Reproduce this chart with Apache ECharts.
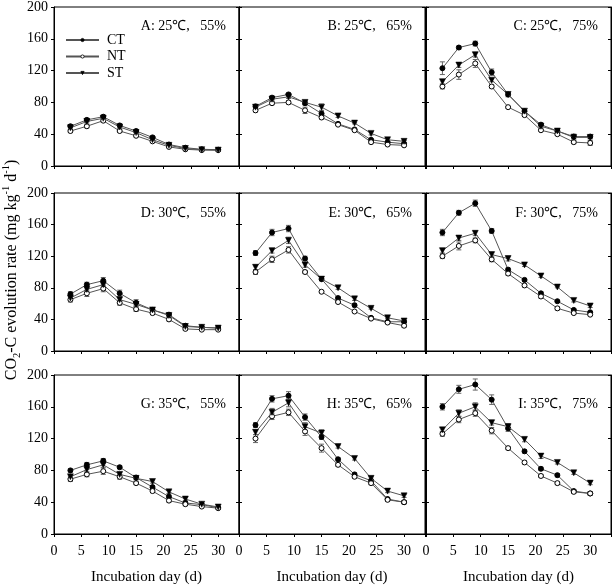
<!DOCTYPE html>
<html><head><meta charset="utf-8">
<script src="https://cdn.jsdelivr.net/npm/echarts@6/dist/echarts.min.js"></script>
<style>html,body{margin:0;padding:0;background:#fff}#c{width:614px;height:586px}</style>
</head><body><div id="c"></div>
<script>
// ---- data ----
const days = [3, 6, 9, 12, 15, 18, 21, 24, 27, 30];
const seriesNames = ['CT', 'NT', 'ST'];
const panelTitles = ['A: 25\u2103,   55%', 'B: 25\u2103,   65%', 'C: 25\u2103,   75%',
                     'D: 30\u2103,   55%', 'E: 30\u2103,   65%', 'F: 30\u2103,   75%',
                     'G: 35\u2103,   55%', 'H: 35\u2103,   65%', 'I: 35\u2103,   75%'];
const xTickLabels = [0, 5, 10, 15, 20, 25, 30];
const yTickLabels = [0, 40, 80, 120, 160, 200];

const ctA = [50, 58, 62, 51, 44, 36, 27, 23, 21, 20.5];
const ntA = [44, 50, 57, 44, 38, 31, 24, 21, 20, 20];
const stA = [48, 56, 60, 49, 42, 33, 26, 22, 20.5, 20];
const ctAErr = [2, 2, 2, 2, 2, 2, 1, 1, 1, 1];
const ntAErr = [2, 2, 2, 1.5, 1.5, 1, 1, 1, 1, 1];
const stAErr = [2, 2, 2, 2, 2, 1.5, 1, 1, 1, 1];

const ctB = [75, 86, 90, 79, 66, 53, 46, 33, 30, 28];
const ntB = [70, 79, 80, 70, 61, 52, 45, 30, 27, 26];
const stB = [74, 84, 87, 80, 74, 63, 54, 41, 33, 31];
const ctBErr = [2, 2, 2, 2, 3, 1, 1, 1, 1, 1];
const ntBErr = [2, 2, 2, 4, 2, 1, 1, 2, 1, 1];
const stBErr = [2, 2, 2, 3, 4, 2, 1, 2, 2, 1];

const ctC = [123, 149, 154, 118, 90, 69, 52, 44, 37, 37];
const ntC = [100, 115, 129, 100, 74, 64, 45, 40, 30, 29];
const stC = [106, 127, 140, 108, 90, 69, 50, 44, 36, 36];
const ctCErr = [8, 2, 3, 4, 3, 2, 2, 2, 3, 2];
const ntCErr = [3, 6, 5, 2, 1, 1, 1, 1, 2, 3];
const stCErr = [3, 3, 3, 2, 2, 2, 2, 2, 2, 2];

const ctD = [72, 84, 89, 73, 61, 52, 46, 32, 30, 29];
const ntD = [65, 73, 79, 61, 53, 48, 40, 28, 27, 27];
const stD = [67, 78, 84, 65, 59, 52, 45, 31, 30, 29];
const ctDErr = [3, 3, 4, 4, 4, 2, 2, 2, 1, 1];
const ntDErr = [3, 4, 4, 3, 3, 2, 2, 2, 1, 1];
const stDErr = [3, 3, 3, 3, 2, 2, 2, 2, 1, 2];

const ctE = [124, 150, 155, 117, 91, 67, 58, 42, 37, 37];
const ntE = [100, 116, 128, 100, 75, 62, 50, 41, 36, 32];
const stE = [106, 127, 140, 109, 91, 80, 66, 54, 42, 38];
const ctEErr = [3, 4, 4, 3, 2, 2, 2, 1, 1, 1];
const ntEErr = [3, 4, 4, 2, 1, 1, 1, 1, 1, 2];
const stEErr = [3, 3, 4, 3, 2, 2, 2, 1, 1, 1];

const ctF = [150, 175, 187, 152, 103, 90, 73, 63, 52, 49];
const ntF = [120, 133, 140, 116, 98, 83, 69, 54, 48, 46];
const stF = [127, 143, 149, 122, 117, 109, 95, 81, 64, 57];
const ctFErr = [4, 3, 4, 3, 2, 2, 2, 1, 1, 1];
const ntFErr = [3, 5, 3, 3, 2, 2, 2, 2, 1, 1];
const stFErr = [3, 3, 3, 3, 3, 2, 2, 1, 2, 2];

const ctG = [80, 87, 92, 84, 71, 59, 47, 39, 37, 33];
const ntG = [69, 75, 79, 72, 64, 54, 42, 37.5, 34.5, 32.5];
const stG = [72, 81, 87, 75, 70, 66, 53, 44, 37.5, 34];
const ctGErr = [2, 3, 3, 2, 2, 2, 2, 2, 1, 1];
const ntGErr = [3, 3, 4, 3, 2, 2, 2, 2, 1, 1];
const stGErr = [2, 3, 3, 3, 2, 2, 2, 2, 1, 1];

const ctH = [137, 170, 174, 147, 122, 94, 75, 67, 44, 40];
const ntH = [120, 148, 153, 129, 108, 87, 72, 64, 43, 40];
const stH = [128, 153, 165, 135, 127, 110, 95, 70, 54, 48];
const ctHErr = [3, 4, 5, 4, 3, 2, 2, 2, 2, 2];
const ntHErr = [5, 4, 4, 5, 5, 2, 2, 2, 2, 2];
const stHErr = [3, 5, 5, 5, 4, 2, 2, 2, 2, 2];

const ctI = [160, 182, 188, 169, 133, 104, 82, 74, 54, 51];
const ntI = [126, 144, 152, 130, 108, 90, 73, 64, 53, 51];
const stI = [131, 152, 160, 140, 135, 119, 98, 90, 77, 64];
const ctIErr = [4, 5, 7, 6, 4, 2, 2, 2, 2, 2];
const ntIErr = [3, 4, 4, 4, 2, 2, 2, 2, 2, 2];
const stIErr = [3, 4, 5, 3, 4, 3, 3, 2, 2, 2];

const panelData = [
  [ctA, ntA, stA], [ctB, ntB, stB], [ctC, ntC, stC],
  [ctD, ntD, stD], [ctE, ntE, stE], [ctF, ntF, stF],
  [ctG, ntG, stG], [ctH, ntH, stH], [ctI, ntI, stI]
];
const panelErr = [
  [ctAErr, ntAErr, stAErr], [ctBErr, ntBErr, stBErr], [ctCErr, ntCErr, stCErr],
  [ctDErr, ntDErr, stDErr], [ctEErr, ntEErr, stEErr], [ctFErr, ntFErr, stFErr],
  [ctGErr, ntGErr, stGErr], [ctHErr, ntHErr, stHErr], [ctIErr, ntIErr, stIErr]
];

// ---- layout ----
const colLeft = [54, 239, 426];
const colWidth = [185, 186, 185];
const rowTop = [7, 193, 375];
const rowHeight = [159, 158, 160];
const titleDy = [12, 13, 22];
const FONT = 'Liberation Serif';

const grids = [], xAxes = [], yAxes = [], series = [], titles = [];
const styles = [
  {symbol: 'circle', symbolSize: 5, symbolRotate: 0, itemStyle: {color: '#000', borderColor: '#000', borderWidth: 1}},
  {symbol: 'circle', symbolSize: 5, symbolRotate: 0, itemStyle: {color: '#fff', borderColor: '#000', borderWidth: 1}},
  {symbol: 'triangle', symbolSize: 6, symbolRotate: 180, itemStyle: {color: '#000', borderColor: '#000', borderWidth: 0.5}}
];

function renderErr(params, api) {
  const x = api.value(0), y = api.value(1), e = api.value(2);
  const top = api.coord([x, y + e]), bot = api.coord([x, y - e]);
  const hw = 2.5;
  const st = {stroke: '#666', lineWidth: 1};
  return {type: 'group', children: [
    {type: 'line', shape: {x1: top[0], y1: top[1], x2: bot[0], y2: bot[1]}, style: st},
    {type: 'line', shape: {x1: top[0] - hw, y1: top[1], x2: top[0] + hw, y2: top[1]}, style: st},
    {type: 'line', shape: {x1: bot[0] - hw, y1: bot[1], x2: bot[0] + hw, y2: bot[1]}, style: st}
  ]};
}

for (let r = 0; r < 3; r++) {
  for (let c = 0; c < 3; c++) {
    const i = r * 3 + c;
    grids.push({left: colLeft[c], top: rowTop[r], width: colWidth[c], height: rowHeight[r],
      show: true, borderColor: '#000', borderWidth: 1, backgroundColor: 'transparent', containLabel: false});
    xAxes.push({type: 'value', gridIndex: i, min: 0, max: 33.8, interval: 5,
      axisLine: {show: true, onZero: false, lineStyle: {color: '#000', width: 1}},
      axisTick: {show: true, length: 3, inside: false, lineStyle: {color: '#000'}},
      axisLabel: {show: r === 2, fontSize: 14, fontFamily: FONT, color: '#000', margin: 10,
        formatter: v => (xTickLabels.indexOf(v) >= 0 ? String(v) : '')},
      splitLine: {show: false},
      name: r === 2 ? 'Incubation day (d)' : '', nameLocation: 'middle', nameGap: 36,
      nameTextStyle: {fontSize: 15, fontFamily: FONT, color: '#000'}});
    yAxes.push({type: 'value', gridIndex: i, min: 0, max: 200, interval: 40, position: 'left',
      axisLine: {show: true, onZero: false, lineStyle: {color: '#000', width: 1}},
      axisTick: {show: true, length: 3, inside: c > 0, lineStyle: {color: '#000'}},
      axisLabel: {show: c === 0, fontSize: 14, fontFamily: FONT, color: '#000', margin: 6,
        formatter: v => (yTickLabels.indexOf(v) >= 0 ? String(v) : '')},
      splitLine: {show: false}});
    yAxes.push({type: 'value', gridIndex: i, min: 0, max: 200, interval: 40, position: 'right',
      axisLine: {show: true, onZero: false, lineStyle: {color: '#000', width: 1}},
      axisTick: {show: true, length: 3, inside: true, lineStyle: {color: '#000'}},
      axisLabel: {show: false}, splitLine: {show: false}});
    for (let s = 0; s < 3; s++) {
      series.push({
        type: 'custom', name: 'err' + seriesNames[s], xAxisIndex: i, yAxisIndex: 2 * i,
        data: days.map((d, k) => [d, panelData[i][s][k], panelErr[i][s][k]]),
        renderItem: renderErr, z: 2, silent: true
      });
    }
    for (let s = 0; s < 3; s++) {
      series.push(Object.assign({
        type: 'line', name: seriesNames[s], xAxisIndex: i, yAxisIndex: 2 * i,
        data: days.map((d, k) => [d, panelData[i][s][k]]),
        showSymbol: true, showAllSymbol: true,
        lineStyle: {color: '#555', width: 1}, z: 3 + s, silent: true
      }, JSON.parse(JSON.stringify(styles[s]))));
    }
    const gridRight = colLeft[c] + colWidth[c];
    titles.push({text: panelTitles[i], right: 614 - (gridRight - 13), top: rowTop[r] + titleDy[r], padding: 0,
      textStyle: {fontSize: 14, fontWeight: 'normal', fontFamily: FONT, color: '#000'}});
  }
}

const option = {
  animation: false,
  backgroundColor: '#fff',
  textStyle: {fontFamily: FONT},
  title: titles,
  grid: grids, xAxis: xAxes, yAxis: yAxes, series: series,
  legend: {data: seriesNames, orient: 'vertical', left: 65, top: 33, padding: 0,
    itemWidth: 33, itemHeight: 4, itemGap: 2.5,
    itemStyle: {borderWidth: 0.8},
    textStyle: {fontSize: 14, lineHeight: 14, fontFamily: FONT, color: '#000', padding: [0, 0, 0, 3]}},
  graphic: [{
    type: 'text', x: 12, y: 270, rotation: Math.PI / 2,
    style: {
      text: '{a|CO}{b|2}{a|-C evolution rate (mg kg}{c|-1}{a| d}{c|-1}{a|)}',
      align: 'center', verticalAlign: 'middle', fill: '#000',
      rich: {
        a: {fontSize: 16, fontFamily: FONT, lineHeight: 22, verticalAlign: 'middle', fill: '#000'},
        b: {fontSize: 10.5, fontFamily: FONT, lineHeight: 10, verticalAlign: 'bottom', fill: '#000'},
        c: {fontSize: 10.5, fontFamily: FONT, lineHeight: 10, verticalAlign: 'top', fill: '#000'}
      }
    }
  }]
};
const chart = echarts.init(document.getElementById('c'), null, {renderer: 'canvas'});
chart.setOption(option);
</script></body></html>
